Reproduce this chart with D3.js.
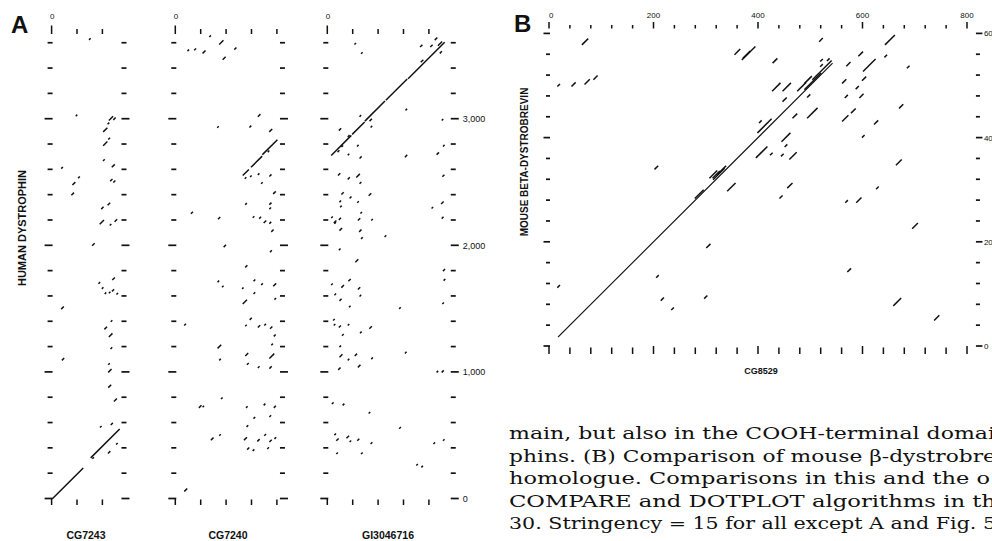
<!DOCTYPE html>
<html><head><meta charset="utf-8">
<script src="https://cdn.jsdelivr.net/npm/d3@7"></script>
<style>body{margin:0;background:#fff}svg{display:block}</style>
</head><body>
<svg id="c" width="992" height="541"></svg>
<script>
// ---------------- DATA ----------------
// Panel A: human dystrophin (vertical) vs three fly sequences (horizontal)
const panelANames = ["CG7243", "CG7240", "GI3046716"];
const panelALengths = [558, 832, 980];
const dystrophinLength = 3687;
const aYTickValues = d3.range(0, 3601, 200);
const aYLabelValues = [0, 1000, 2000, 3000];
const aYLabels = ["0", "1,000", "2,000", "3,000"];
// match segments: [x start residue, y start residue, length] (slope +1)
const segCG7243 = [
  [10,2,235],[312,325,220],
  [299,3627,4],[194,3024,4],
  [455,2990,25],[490,2995,10],[445,2960,5],
  [410,2900,25],[410,2790,25],[450,2840,6],
  [409,2670,5],[478,2620,15],[80,2610,5],
  [213,2535,5],[168,2480,15],[160,2400,12],
  [465,2510,10],[490,2500,8],
  [445,2320,12],[395,2290,10],
  [383,2170,25],[462,2160,4],[500,2190,12],
  [323,2000,12],
  [373,1700,5],[400,1660,4],[482,1730,12],
  [422,1620,4],[455,1625,4],[480,1640,8],[515,1615,4],
  [80,1500,12],
  [470,1400,4],[420,1340,12],[455,1280,20],
  [468,1185,5],[85,1095,10],
  [450,1060,4],[450,1000,18],[450,880,15],[495,770,15],
  [385,565,4],[470,585,8],[512,430,4],[448,360,10],[325,318,4]
];
const segCG7240 = [
  [100,3538,4],[153,3545,6],[219,3520,15],[350,3590,25],[272,3650,4],[469,3550,8],[377,3470,15],
  [334,2932,4],[654,3020,12],[588,2935,6],[744,2900,15],
  [535,2555,40],[600,2620,80],[690,2720,110],
  [551,2530,4],[593,2543,4],[654,2560,4],[680,2490,4],[745,2548,8],[732,2740,4],
  [775,2410,12],[555,2325,4],[745,2325,8],[745,2290,4],
  [127,2253,8],[340,2210,10],
  [614,2222,4],[665,2215,6],[700,2180,12],[745,2175,6],[760,2110,10],
  [385,1990,10],[750,1950,6],[555,1830,8],
  [337,1713,4],[372,1673,4],[620,1720,6],[680,1690,5],[775,1680,15],[530,1660,3],[620,1620,5],[535,1540,25],[785,1575,4],
  [74,1370,6],[590,1415,8],[555,1365,3],[654,1355,10],[705,1370,5],[750,1345,10],[780,1285,6],
  [337,1190,20],[350,1095,4],[555,1130,15],[745,1110,30],[760,1215,4],[568,1060,6],[654,1035,5],[745,1030,10],
  [364,790,4],[190,720,12],[219,725,3],[561,720,4],[700,740,5],[780,720,8],[620,635,5],[745,648,5],[565,570,5],
  [350,500,4],[285,465,12],[545,465,15],[650,455,10],[705,500,5],[745,450,10],[785,475,5],[570,390,8],[614,380,4],[728,395,5],
  [75,60,15]
];
const segGI3046716 = [
  [35,2714,150],[200,2880,90],[300,2985,150],[465,3150,160],[640,3320,280],
  [735,3570,10],[815,3570,10],[850,3625,12],[875,3580,25],[890,3520,8],[740,3450,12],
  [218,3590,4],[270,3517,4],[620,3070,4],[905,2990,4],[258,3020,4],[337,2985,10],[345,2935,4],
  [95,2910,10],[165,2860,6],[115,2780,5],[85,2740,6],[165,2715,4],[238,2785,4],[258,2690,8],
  [615,2700,10],[865,2720,10],[915,2785,4],
  [88,2555,10],[165,2525,8],[232,2540,20],[258,2490,6],[910,2545,8],
  [115,2405,10],[180,2375,6],[240,2340,4],[330,2395,12],[100,2345,4],[105,2305,4],[825,2295,4],[900,2330,12],
  [35,2220,4],[55,2180,12],[95,2205,8],[60,2175,4],[245,2200,10],[265,2255,4],[350,2200,4],[905,2215,6],
  [100,2120,12],[255,2110,10],[270,2055,5],[455,2070,5],
  [95,1965,5],[225,1870,15],[915,1800,8],[920,1725,5],
  [35,1690,4],[115,1670,12],[170,1720,10],[60,1610,5],[245,1655,10],[258,1600,4],[100,1565,8],[175,1515,4],[570,1502,4],[910,1540,4],
  [50,1410,4],[55,1370,4],[95,1355,8],[165,1370,4],[120,1290,5],[262,1310,4],[335,1345,12],
  [100,1200,4],[100,1120,15],[165,1095,4],[220,1130,10],[350,1105,5],[615,1150,5],[90,1020,10],[245,1040,12],[865,1000,4],[905,1000,8],
  [40,750,5],[125,740,5],[330,675,4],
  [60,505,4],[75,460,10],[155,480,12],[180,450,4],[240,460,8],[345,435,5],[570,555,5],[840,435,4],[915,460,4],
  [75,355,4],[270,355,4],[705,265,4],[745,250,4]
];
const panelASegments = [segCG7243, segCG7240, segGI3046716];

// Panel B: mouse beta-dystrobrevin (vertical) vs CG8529 (horizontal)
const panelBName = "CG8529";
const panelBYTitle = "MOUSE BETA-DYSTROBREVIN";
const panelBXLength = 819;
const panelBYLength = 616;
const bXLabelValues = [0, 200, 400, 600, 800];
const bYLabelValues = [0, 200, 400, 600];
const bXTickValues = d3.range(0, 801, 40);
const bYTickValues = d3.range(0, 601, 40);
const segCG8529Main = [[18,18,524]];
const segCG8529 = [
  [64,579,10],[17,499,3],[44,499,6],[69,503,8],[86,512,6],
  [203,340,5],[314,323,12],[323,330,15],[356,560,9],[372,553,12],
  [370,550,24],[518,585,5],[644,579,17],[429,544,7],[520,547,3],[533,548,3],[520,537,3],
  [505,512,35],[490,493,30],[570,538,6],[593,557,7],[602,528,22],[643,555,3],[686,534,3],
  [448,490,14],[428,490,14],[490,505,12],[476,490,15],[562,505,6],[588,494,4],[600,510,6],
  [495,478,4],[448,470,6],[567,477,4],[595,477,6],
  [467,438,7],[495,438,18],[562,432,10],[579,448,7],[671,457,6],
  [403,429,3],[623,426,6],[400,410,25],[446,393,15],[452,383,3],
  [397,362,20],[424,367,3],[445,365,3],[461,359,12],[600,401,3],[665,348,9],
  [308,323,13],[342,298,14],[315,320,20],[280,284,15],
  [302,189,6],[206,132,3],[17,113,3],[215,88,4],[298,92,4],[235,70,3],
  [457,304,8],[442,284,4],[568,276,3],[589,276,8],[627,302,3],[696,226,9],
  [572,143,5],[660,78,13],[738,50,8]
];

const captionLines = [
  "main, but also in the COOH-terminal domai",
  "phins. (B) Comparison of mouse \u03b2-dystrobre",
  "homologue. Comparisons in this and the o",
  "COMPARE and DOTPLOT algorithms in th",
  "30. Stringency = 15 for all except A and Fig. 5"
];
const captionWidths = [486, 487, 481, 487, 487];

// ---------------- DRAWING ----------------
const svg = d3.select("#c");
const ink = "#111";
const sans = "'Liberation Sans', Arial, Helvetica, sans-serif";

function drawSegs(g, segs, x, y, sw) {
  g.selectAll(null).data(segs).join("line")
    .attr("x1", d => x(d[0])).attr("y1", d => y(d[1]))
    .attr("x2", d => x(d[0] + d[2])).attr("y2", d => y(d[1] + d[2]))
    .attr("stroke", ink).attr("stroke-width", sw).attr("stroke-linecap", "square");
}
// horizontal tick dashes; side = -1 (left of axis) or +1 (right of axis)
function hTicks(g, y, xc, values, majorEvery, wShort, wLong, side) {
  const w = d => (d % majorEvery === 0) ? wLong : wShort;
  g.selectAll(null).data(values).join("line")
    .attr("x1", d => side < 0 ? xc - w(d) + 1 : xc - 1)
    .attr("x2", d => side < 0 ? xc + 1 : xc + w(d) - 1)
    .attr("y1", d => y(d)).attr("y2", d => y(d))
    .attr("stroke", ink).attr("stroke-width", 1.7);
}
function vTicks(g, x, values, y1Major, y1Minor, y2, isMajor) {
  g.selectAll(null).data(values).join("line")
    .attr("x1", d => x(d)).attr("x2", d => x(d))
    .attr("y1", d => isMajor(d) ? y1Major : y1Minor).attr("y2", y2)
    .attr("stroke", ink).attr("stroke-width", 1.5);
}

// ----- Panel A -----
const kx = 0.127, ky = 0.1266, aY0 = 498.5;
const aLeft = [51.6, 175.3, 327.3];
const aLabelX = [86, 228, 388];
const yA = d3.scaleLinear().domain([0, dystrophinLength]).range([aY0, aY0 - dystrophinLength * ky]);

panelANames.forEach((name, i) => {
  const len = panelALengths[i];
  const x = d3.scaleLinear().domain([0, len]).range([aLeft[i], aLeft[i] + len * kx]);
  const g = svg.append("g");
  hTicks(g, yA, x(0), aYTickValues, 1000, 5, 8, -1);
  hTicks(g, yA, x(len), aYTickValues, 1000, 5, 8, 1);
  const xt = d3.range(0, len - 20, 200);
  vTicks(g, x, xt, 25.5, 29, 34, d => d === 0);
  vTicks(g, x, xt, 498.5, 499.5, 505, d => d === 0);
  g.append("text").attr("x", x(0) - 1.5).attr("y", 18.5)
    .attr("font-family", sans).attr("font-size", 8).attr("fill", ink).text("0");
  drawSegs(g, panelASegments[i], x, yA, 1.5);
  g.append("text").attr("x", aLabelX[i]).attr("y", 539).attr("text-anchor", "middle")
    .attr("font-family", sans).attr("font-weight", "bold").attr("font-size", 10.5)
    .attr("fill", ink).text(name);
  if (i === panelANames.length - 1) {
    g.selectAll(null).data(aYLabelValues).join("text")
      .attr("x", x(len) + 11).attr("y", d => yA(d) + 3.3)
      .attr("font-family", sans).attr("font-size", 9).attr("fill", ink)
      .text((d, j) => aYLabels[j]);
  }
});
svg.append("text").attr("transform", "translate(26,228) rotate(-90)")
  .attr("text-anchor", "middle").attr("font-family", sans).attr("font-weight", "bold")
  .attr("font-size", 11).attr("fill", ink).text("HUMAN DYSTROPHIN");
svg.append("text").attr("x", 11).attr("y", 33).attr("font-family", sans)
  .attr("font-weight", "bold").attr("font-size", 24).attr("fill", ink).text("A");

// ----- Panel B -----
const kb = 0.5225, kby = 0.521;
const xB = d3.scaleLinear().domain([0, panelBXLength]).range([549, 549 + panelBXLength * kb]);
const yB = d3.scaleLinear().domain([0, panelBYLength]).range([346, 346 - panelBYLength * kby]);
const gB = svg.append("g");
hTicks(gB, yB, xB(0), bYTickValues, 200, 4, 6.5, -1);
hTicks(gB, yB, xB(panelBXLength), bYTickValues, 200, 4, 6.5, 1);
vTicks(gB, xB, bXTickValues, 22, 25, 28.5, d => d % 200 === 0);
vTicks(gB, xB, bXTickValues, 346, 347.5, 354, d => d % 200 === 0);
gB.selectAll(null).data(bXLabelValues).join("text")
  .attr("x", d => xB(d)).attr("y", 17.5).attr("text-anchor", d => d === 0 ? "start" : "middle")
  .attr("font-family", sans).attr("font-size", 8).attr("fill", ink).text(d => String(d));
gB.selectAll(null).data(bYLabelValues).join("text")
  .attr("x", xB(panelBXLength) + 7).attr("y", d => yB(d) + 3)
  .attr("font-family", sans).attr("font-size", 8).attr("fill", ink).text(d => String(d));
drawSegs(gB, segCG8529Main, xB, yB, 1.1);
drawSegs(gB, segCG8529, xB, yB, 1.5);
gB.append("text").attr("x", 761).attr("y", 374).attr("text-anchor", "middle")
  .attr("font-family", sans).attr("font-weight", "bold").attr("font-size", 9)
  .attr("fill", ink).text(panelBName);
gB.append("text").attr("transform", "translate(528,162) rotate(-90)")
  .attr("text-anchor", "middle").attr("font-family", sans).attr("font-weight", "bold")
  .attr("font-size", 10).attr("fill", ink).text(panelBYTitle);
svg.append("text").attr("x", 514).attr("y", 32).attr("font-family", sans)
  .attr("font-weight", "bold").attr("font-size", 24).attr("fill", ink).text("B");

// ----- caption -----
svg.selectAll(null).data(captionLines).join("text")
  .attr("x", 509).attr("y", (d, i) => 439 + i * 22.5)
  .attr("font-family", "'DejaVu Serif', 'Liberation Serif', serif").attr("font-size", 17)
  .attr("fill", ink)
  .attr("textLength", (d, i) => captionWidths[i]).attr("lengthAdjust", "spacingAndGlyphs")
  .text(d => d);
</script>
</body></html>
